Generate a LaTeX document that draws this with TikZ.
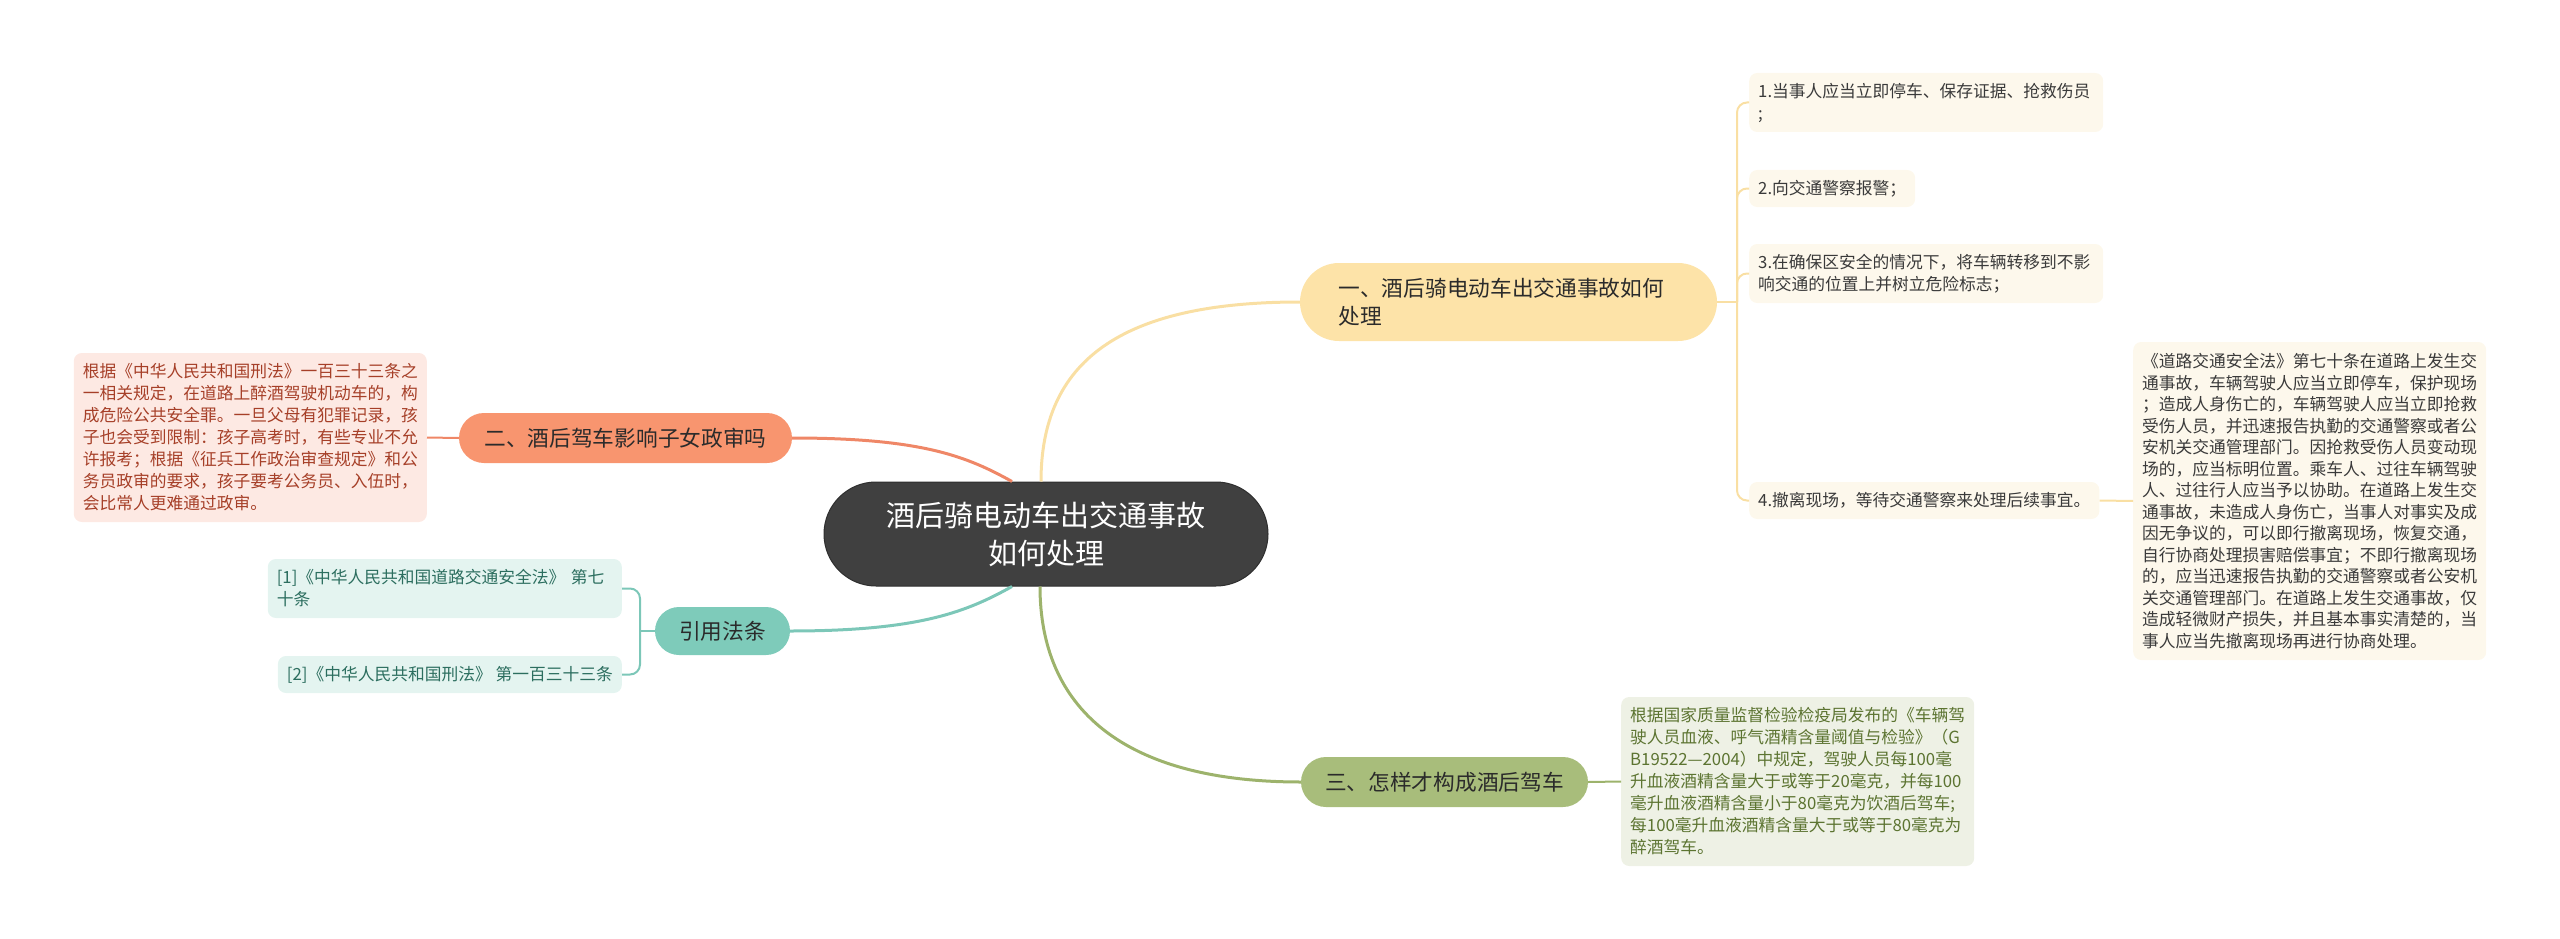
\documentclass[tikz,border=0pt]{standalone}
\usepackage{fontspec}
\newfontfamily\cjk{Noto Sans CJK SC}
\definecolor{rootgray}{HTML}{404040}
\definecolor{rootedge}{HTML}{2E2E2E}
\definecolor{topictext}{HTML}{2B2B2B}
\definecolor{accfill}{HTML}{FDE3A8}
\definecolor{accline}{HTML}{F9DFA3}
\definecolor{accpale}{HTML}{FDF8EC}
\definecolor{acctext}{HTML}{3A3A3A}
\definecolor{kidfill}{HTML}{F8956F}
\definecolor{kidline}{HTML}{EF8767}
\definecolor{kidpale}{HTML}{FDE9E3}
\definecolor{kidtext}{HTML}{A63F28}
\definecolor{reffill}{HTML}{7ECBBA}
\definecolor{refline}{HTML}{7CC7B8}
\definecolor{refpale}{HTML}{E4F4F0}
\definecolor{reftext}{HTML}{2C6E5F}
\definecolor{deffill}{HTML}{A8BD7B}
\definecolor{defline}{HTML}{9DB36C}
\definecolor{defpale}{HTML}{EEF1E5}
\definecolor{deftext}{HTML}{5C7431}
\begin{document}
\begin{tikzpicture}[x=1pt,y=-1pt,
    every node/.style={inner sep=0pt,align=left},
    mainbox/.style={fill=rootgray,draw=rootedge,line width=1pt,rounded corners=52pt,minimum width=444pt,minimum height=104pt,align=center,text=white,font=\cjk\fontsize{29}{38}\selectfont},
    topicbox/.style={text=topictext,font=\cjk\fontsize{21.7}{28}\selectfont},
    leafbox/.style={rounded corners=8pt,inner xsep=9pt,font=\cjk\fontsize{16.75}{22}\selectfont},
    link/.style={line width=3pt},
    twig/.style={line width=2pt,rounded corners=10pt}
]
\useasboundingbox (0,0) rectangle (2560,939);
\node[mainbox] (root) at (1046,534) {酒后骑电动车出交通事故\\如何处理};

\node[topicbox,fill=accfill,minimum width=417pt,minimum height=78pt,rounded corners=39pt,text width=340pt] (acc) at (1508.5,302) {一、酒后骑电动车出交通事故如何\\处理};
\node[topicbox,fill=kidfill,minimum width=333pt,minimum height=50pt,rounded corners=25pt] (kid) at (625.5,438) {二、酒后驾车影响子女政审吗};
\node[topicbox,fill=reffill,minimum width=135pt,minimum height=48pt,rounded corners=24pt] (ref) at (722.5,631) {引用法条};
\node[topicbox,fill=deffill,minimum width=287pt,minimum height=50pt,rounded corners=25pt] (def) at (1444.5,782) {三、怎样才构成酒后驾车};

\node[leafbox,fill=accpale,text=acctext,anchor=west,minimum height=59pt,text width=336pt] (acc1) at (1749,102.5) {1.当事人应当立即停车、保存证据、抢救伤员\\;};
\node[leafbox,fill=accpale,text=acctext,anchor=west,minimum height=37pt] (acc2) at (1749,188.5) {2.向交通警察报警；};
\node[leafbox,fill=accpale,text=acctext,anchor=west,minimum height=59pt,text width=336pt] (acc3) at (1749,273.5) {3.在确保区安全的情况下，将车辆转移到不影\\响交通的位置上并树立危险标志；};
\node[leafbox,fill=accpale,text=acctext,anchor=west,minimum height=37pt] (acc4) at (1749,500.5) {4.撤离现场，等待交通警察来处理后续事宜。};
\node[leafbox,fill=accpale,text=acctext,anchor=west,minimum height=318pt,font=\cjk\fontsize{16.75}{21.5}\selectfont] (law70) at (2133,501) {《道路交通安全法》第七十条在道路上发生交\\通事故，车辆驾驶人应当立即停车，保护现场\\；造成人身伤亡的，车辆驾驶人应当立即抢救\\受伤人员，并迅速报告执勤的交通警察或者公\\安机关交通管理部门。因抢救受伤人员变动现\\场的，应当标明位置。乘车人、过往车辆驾驶\\人、过往行人应当予以协助。在道路上发生交\\通事故，未造成人身伤亡，当事人对事实及成\\因无争议的，可以即行撤离现场，恢复交通，\\自行协商处理损害赔偿事宜；不即行撤离现场\\的，应当迅速报告执勤的交通警察或者公安机\\关交通管理部门。在道路上发生交通事故，仅\\造成轻微财产损失，并且基本事实清楚的，当\\事人应当先撤离现场再进行协商处理。};

\node[leafbox,fill=kidpale,text=kidtext,anchor=east,minimum height=169pt] (kid1) at (427,437.5) {根据《中华人民共和国刑法》一百三十三条之\\一相关规定，在道路上醉酒驾驶机动车的，构\\成危险公共安全罪。一旦父母有犯罪记录，孩\\子也会受到限制：孩子高考时，有些专业不允\\许报考；根据《征兵工作政治审查规定》和公\\务员政审的要求，孩子要考公务员、入伍时，\\会比常人更难通过政审。};

\node[leafbox,fill=refpale,text=reftext,anchor=east,minimum height=59pt,text width=336pt] (ref1) at (622,588.5) {[1]《中华人民共和国道路交通安全法》 第七\\十条};
\node[leafbox,fill=refpale,text=reftext,anchor=east,minimum height=37pt] (ref2) at (622,674.5) {[2]《中华人民共和国刑法》 第一百三十三条};

\node[leafbox,fill=defpale,text=deftext,anchor=west,minimum height=169pt] (def1) at (1621,781.5) {根据国家质量监督检验检疫局发布的《车辆驾\\驶人员血液、呼气酒精含量阈值与检验》（G\\B19522—2004）中规定，驾驶人员每100毫\\升血液酒精含量大于或等于20毫克，并每100\\毫升血液酒精含量小于80毫克为饮酒后驾车;\\每100毫升血液酒精含量大于或等于80毫克为\\醉酒驾车。};

\coordinate (accfork) at (1737,302);
\coordinate (reffork) at (640,631);

\draw[link,accline] ([xshift=-5pt]root.north) .. controls +(0,-120) and +(-180,0) .. (acc.west);
\draw[link,kidline] (kid.east) .. controls +(130,0) and +(-45,-25) .. ([xshift=-34pt]root.north);
\draw[link,refline] (ref.east) .. controls +(130,0) and +(-45,25) .. ([xshift=-34pt]root.south);
\draw[link,defline] ([xshift=-6pt]root.south) .. controls +(0,120) and +(-180,0) .. (def.west);

\draw[twig,accline] (acc.east) -- (accfork);
\draw[twig,accline] (accfork) |- (acc1.west);
\draw[twig,accline] (accfork) |- (acc2.west);
\draw[twig,accline] (accfork) |- (acc3.west);
\draw[twig,accline] (accfork) |- (acc4.west);
\draw[twig,accline] (acc4.east) -- (law70.west);
\draw[twig,kidline] (kid1.east) -- (kid.west);
\draw[twig,refline] (ref.west) -- (reffork);
\draw[twig,refline] (reffork) |- (ref1.east);
\draw[twig,refline] (reffork) |- (ref2.east);
\draw[twig,defline] (def.east) -- (def1.west);
\end{tikzpicture}
\end{document}
